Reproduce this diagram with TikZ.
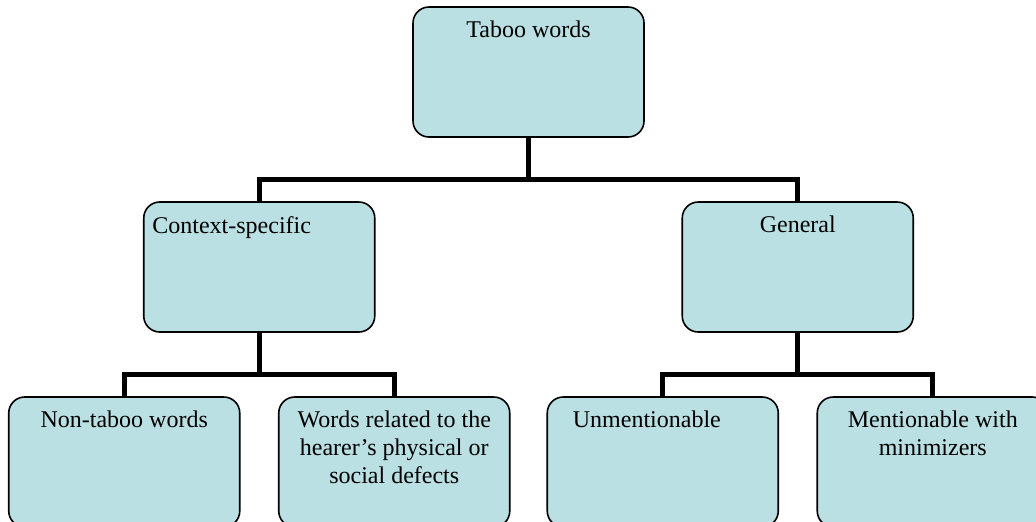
\documentclass[tikz,border=0pt]{standalone}
\usepackage{fontspec}
\setmainfont{Liberation Serif}
\usetikzlibrary{positioning}
\definecolor{boxfill}{RGB}{186,224,227}
\tikzset{
  tbox/.style={draw, rectangle, rounded corners=8pt, fill=boxfill, line width=0.8pt,
    minimum width=115.5pt, minimum height=65pt, inner sep=0pt},
  lbl/.style={inner sep=0pt, align=center, font=\fontsize{12}{14}\selectfont}
}
\begin{document}
\begin{tikzpicture}[
        level 1/.style={sibling distance=269.25pt, level distance=97.5pt},
        level 2/.style={sibling distance=135pt, level distance=97.5pt},
        every child node/.style={tbox},
        edge from parent/.style={draw, line width=2.4pt},
        edge from parent path={(\tikzparentnode.south) -- ++(0,-20.75pt) -| (\tikzchildnode.north)}
        ]
        \useasboundingbox (0,0) rectangle (518pt,-260.5pt);
        \clip (0,0) rectangle (518pt,-260.5pt);
        \node[tbox] (root) at (264.25pt,-36pt) {}
        child {node (ctx) {}
            child {node (nontaboo) {}}
            child {node (defects) {}}
        }
        child {node (general) {}
            child {node (unment) {}}
            child {node (ment) {}}
        };
        % texts at the top of the boxes
        \node[lbl, below=7.3pt of root.north] (roottext) {Taboo words};
        \node[lbl, below right=7.3pt and 4.5pt of ctx.north west] (ctxtext) {Context-specific};
        \node[lbl, below=7.3pt of general.north] (generaltext) {General};
        \node[lbl, below=7.3pt of nontaboo.north] (nontabootext) {Non-taboo words};
        \node[lbl, below=7.3pt of defects.north] (defectstext) {Words related to the\\hearer’s physical or\\social defects};
        \node[lbl, below right=7.3pt and 13pt of unment.north west] (unmenttext) {Unmentionable};
        \node[lbl, below=7.3pt of ment.north] (menttext) {Mentionable with\\minimizers};
\end{tikzpicture}
\end{document}
